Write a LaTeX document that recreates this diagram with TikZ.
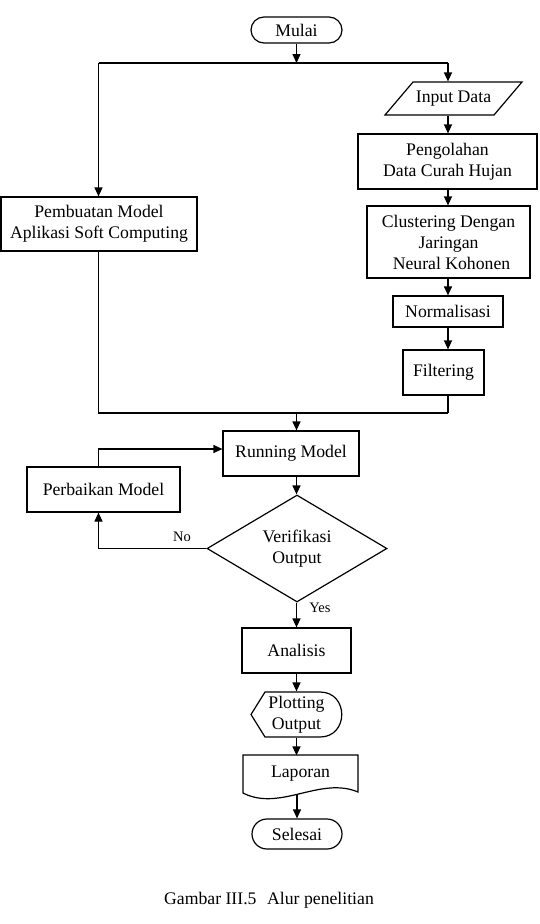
\documentclass[tikz,border=0pt]{standalone}
\usepackage{fontspec}
\setmainfont{Liberation Serif}
\usetikzlibrary{shapes.geometric,arrows.meta}
\begin{document}
\begin{tikzpicture}[x=1pt,y=-1pt,line width=1.2pt,
  every node/.style={font=\fontsize{17.7}{21}\selectfont, inner sep=0pt, align=center},
  box/.style n args={2}{draw, minimum width=#1, minimum height=#2},
  term/.style n args={2}{draw, rounded corners=#2/2, minimum width=#1, minimum height=#2},
  lbl/.style={font=\fontsize{14.5}{17}\selectfont},
  arr/.style={-{Triangle[length=9pt,width=8pt]}}]
\useasboundingbox (0,0) rectangle (539,924);
% nodes
\node[term={91}{26}] (mulai) at (296.5,30) {Mulai};
\node[box={196}{54}] (pemb) at (99,224) {Pembuatan Model\\Aplikasi Soft Computing};
\node[minimum width=110, minimum height=33] (input) at (453.5,98.5) {Input Data};
\draw (385,115) -- (413,82) -- (522,82) -- (494,115) -- cycle;
\node[box={179}{55}] (peng) at (447.5,161.5) {Pengolahan\\Data Curah Hujan};
\node[box={163}{72}] (clust) at (448.5,242) {Clustering Dengan\\Jaringan\\\hspace*{6pt}Neural Kohonen};
\node[box={110}{31}] (norm) at (448,311.5) {Normalisasi};
\node[box={81}{45}] (filt) at (443.5,372.5) {Filtering};
\node[box={136}{45}] (run) at (291,453.5) {Running Model};
\node[box={153}{45}] (perb) at (103.5,489.5) {Perbaikan Model};
\node[diamond, draw, aspect=1.7, minimum width=180, minimum height=107] (dia) at (297,548.5) {Verifikasi\\Output};
\node[box={109}{45}] (anal) at (296.5,650.5) {Analisis};
\node[minimum width=91, minimum height=45] (plot) at (296.5,714.5) {Plotting\\Output};
\draw (251,714.5) -- (265,692) -- (320,692) .. controls (349,692) and (349,737) .. (320,737) -- (265,737) -- cycle;
\node[minimum width=115, minimum height=36] (lap) at (300.5,774) {Laporan};
\draw (243,755) -- (358,755) -- (358,792) .. controls (320,776) and (280,812) .. (243,793) -- cycle;
\node[term={90}{30}] (sel) at (297,834) {Selesai};
\node (cap) at (269,900) {Gambar III.5\hspace{0.6em}Alur penelitian};
\node[lbl] (no) at (182,537) {No};
\node[lbl] (yes) at (320,608) {Yes};
% coordinates
\coordinate (cx) at (296.5,0);
\coordinate (lx) at (98.5,0);
\coordinate (rx) at (448,0);
\coordinate (top) at (296.5,63);
\coordinate (tl) at (98.5,63);
\coordinate (tr) at (448,63);
\coordinate (bl) at (98.5,413);
\coordinate (br) at (448,413);
\coordinate (bm) at (296.5,413);
\coordinate (fb) at (98.5,449);
\coordinate (lapb) at (297,795);
% connectors
\draw[arr] (mulai.south) -- (top);
\draw (tl) -- (tr);
\draw[arr] (tl) -- (tl |- pemb.north);
\draw[arr] (tr) -- (tr |- input.north);
\draw[arr] (rx |- input.south) -- (rx |- peng.north);
\draw[arr] (rx |- peng.south) -- (rx |- clust.north);
\draw[arr] (rx |- clust.south) -- (rx |- norm.north);
\draw[arr] (rx |- norm.south) -- (rx |- filt.north);
\draw (rx |- filt.south) -- (br);
\draw (lx |- pemb.south) -- (bl) -- (br);
\draw[arr] (bm) -- (bm |- run.north);
\draw[arr] (cx |- run.south) -- (cx |- dia.north);
\draw[arr] (dia.west) -- (lx |- dia.west) -- (lx |- perb.south);
\draw[arr] (lx |- perb.north) -- (fb) -- (fb -| run.west);
\draw[arr] (cx |- dia.south) -- (cx |- anal.north);
\draw[arr] (cx |- anal.south) -- (cx |- plot.north);
\draw[arr] (cx |- plot.south) -- (cx |- lap.north);
\draw[arr] (lapb) -- (lapb |- sel.north);
\end{tikzpicture}
\end{document}
